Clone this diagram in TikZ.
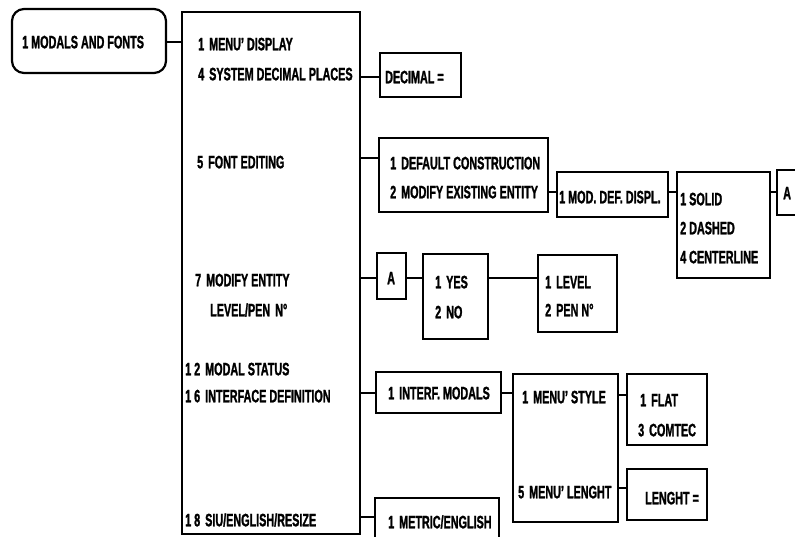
\documentclass[tikz,border=0pt]{standalone}
\usepackage{fontspec}
\setmainfont{Liberation Sans}[FakeStretch=0.6, BoldFeatures={FakeBold=1.3}]
\newcommand{\gp}{\hspace{5pt}}
\begin{document}
\begin{tikzpicture}[x=1pt,y=-1pt,
  box/.style={draw, line width=2.2pt, inner sep=0pt},
  lbl/.style={anchor=base west, inner sep=0pt, font=\fontsize{18}{18}\selectfont\bfseries, yshift=-6.3pt},
  conn/.style={line width=2.2pt}]
\clip (0,0) rectangle (795,536);
\fill[white] (0,0) rectangle (795,536);

% boxes
\node[box, rounded corners=12pt, minimum width=154pt, minimum height=64pt] (root) at (89,41) {};
\node[box, minimum width=178pt, minimum height=522pt] (main) at (271,273) {};
\node[box, minimum width=81pt, minimum height=44pt] (dec) at (420.5,75) {};
\node[box, minimum width=169pt, minimum height=74pt] (font) at (463.5,175) {};
\node[box, minimum width=111pt, minimum height=45pt] (mod) at (612.5,194.5) {};
\node[box, minimum width=93pt, minimum height=106pt] (solid) at (723.5,225) {};
\node[box, minimum width=38pt, minimum height=45pt] (aone) at (796,192.5) {};
\node[box, minimum width=29pt, minimum height=46pt] (atwo) at (391.5,276) {};
\node[box, minimum width=65pt, minimum height=85pt] (yesno) at (455.5,296.5) {};
\node[box, minimum width=79pt, minimum height=77pt] (level) at (577.5,293.5) {};
\node[box, minimum width=125pt, minimum height=41pt] (interf) at (438.5,392.5) {};
\node[box, minimum width=105pt, minimum height=148pt] (menu) at (565.5,448) {};
\node[box, minimum width=80pt, minimum height=71pt] (flat) at (667,409.5) {};
\node[box, minimum width=80pt, minimum height=51pt] (len) at (667,494.5) {};
\node[box, minimum width=124pt, minimum height=62pt] (metric) at (437,529) {};

% texts
\node[lbl] (t0) at (22,42) {1 MODALS AND FONTS};
\node[lbl] (t1) at (198,44) {1\gp MENU' DISPLAY};
\node[lbl] (t4) at (198,74) {4\gp SYSTEM DECIMAL PLACES};
\node[lbl] (t5) at (197,162) {5\gp FONT EDITING};
\node[lbl] (t7) at (195,280) {7\gp MODIFY ENTITY};
\node[lbl] (t7b) at (210,310) {LEVEL/PEN\gp N°};
\node[lbl] (t12) at (185,369) {1\,2\gp MODAL STATUS};
\node[lbl] (t16) at (185,396) {1\,6\gp INTERFACE DEFINITION};
\node[lbl] (t18) at (185,520) {1\,8\gp SIU/ENGLISH/RESIZE};
\node[lbl] (td) at (385,77) {DECIMAL =};
\node[lbl] (tf1) at (390,163) {1\gp DEFAULT CONSTRUCTION};
\node[lbl] (tf2) at (390,192) {2\gp MODIFY EXISTING ENTITY};
\node[lbl] (tm) at (559,197) {1 MOD. DEF. DISPL.};
\node[lbl] (ts1) at (680,199) {1 SOLID};
\node[lbl] (ts2) at (680,228) {2 DASHED};
\node[lbl] (ts4) at (680,257) {4 CENTERLINE};
\node[lbl] (ta1) at (783,193) {A};
\node[lbl] (ta2) at (387,278) {A};
\node[lbl] (ty) at (435,282) {1\gp YES};
\node[lbl] (tn) at (435,312) {2\gp NO};
\node[lbl] (tl) at (545,282) {1\gp LEVEL};
\node[lbl] (tp) at (545,310) {2\gp PEN N°};
\node[lbl] (ti) at (388,393) {1\gp INTERF. MODALS};
\node[lbl] (tms) at (522,397) {1\gp MENU' STYLE};
\node[lbl] (tml) at (518,492) {5\gp MENU' LENGHT};
\node[lbl] (tfl) at (640,400) {1\gp FLAT};
\node[lbl] (tco) at (638,430) {3\gp COMTEC};
\node[lbl] (tle) at (645,498) {LENGHT =};
\node[lbl] (tme) at (388,522) {1\gp METRIC/ENGLISH};

% connector levels
\coordinate (c0) at (0,42);
\coordinate (c1) at (0,77);
\coordinate (c2) at (0,158);
\coordinate (c3) at (0,192);
\coordinate (c4) at (0,278);
\coordinate (c5) at (0,393);
\coordinate (c6) at (0,395);
\coordinate (c7) at (0,488);
\coordinate (c8) at (0,517);

\draw[conn] (root.east |- c0) -- (main.west |- c0);
\draw[conn] (main.east |- c1) -- (dec.west |- c1);
\draw[conn] (main.east |- c2) -- (font.west |- c2);
\draw[conn] (font.east |- c3) -- (mod.west |- c3);
\draw[conn] (mod.east |- c3) -- (solid.west |- c3);
\draw[conn] (solid.east |- c3) -- (aone.west |- c3);
\draw[conn] (main.east |- c4) -- (atwo.west |- c4);
\draw[conn] (atwo.east |- c4) -- (yesno.west |- c4);
\draw[conn] (yesno.east |- c4) -- (level.west |- c4);
\draw[conn] (main.east |- c5) -- (interf.west |- c5);
\draw[conn] (interf.east |- c5) -- (menu.west |- c5);
\draw[conn] (menu.east |- c6) -- (flat.west |- c6);
\draw[conn] (menu.east |- c7) -- (len.west |- c7);
\draw[conn] (main.east |- c8) -- (metric.west |- c8);
\end{tikzpicture}
\end{document}
